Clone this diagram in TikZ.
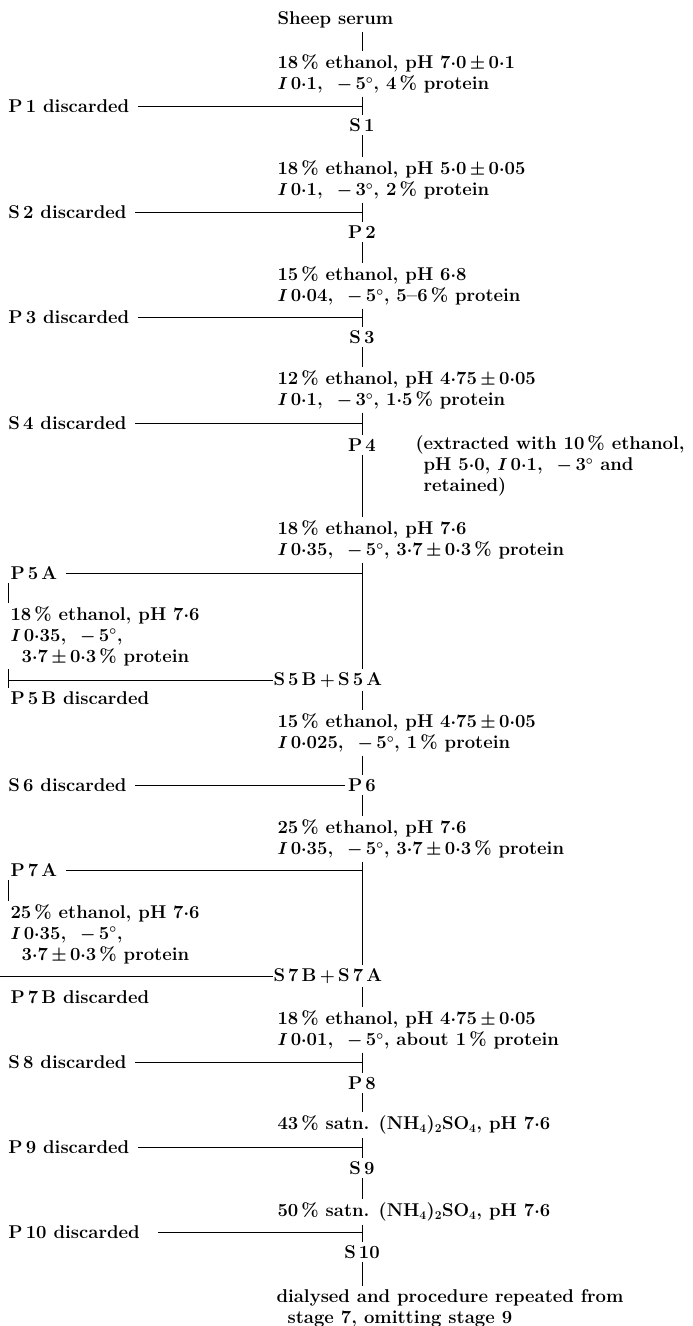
\documentclass[tikz,border=0pt]{standalone}
\newcommand{\ff}{\fontsize{18.5}{21}\selectfont\bfseries\boldmath}
\newcommand{\dec}{\ensuremath{{\cdot}}}
\newcommand{\pc}{\,\%}
\begin{document}
\begin{tikzpicture}[x=1pt,y=-1pt,line width=1pt,
  txt/.style={anchor=west,align=left,inner xsep=0pt,inner ysep=3pt,font=\ff},
  lbl/.style={inner sep=3pt,font=\ff}]
  \useasboundingbox (0,0) rectangle (693,1326);
  \coordinate (axis) at (362,0);
  \coordinate (edge) at (0,0);
  % stage 1
  \node[txt] (serum) at (277,20) {Sheep serum};
  \node[txt] (c1) at (277,74) {18\pc{} ethanol, pH 7\dec0$\,\pm\,$0\dec1\\$I$\,0\dec1, \ $-\,$5$^\circ$, 4\pc{} protein};
  \node[txt] (p1d) at (8,106) {P\,1 discarded};
  \node[lbl] (s1) at (362,125) {S\,1};
  \draw (serum.south -| axis) -- (c1.north -| axis);
  \draw (c1.south -| axis) -- (s1.north);
  \draw ([xshift=8pt]p1d.east) -- (p1d.east -| axis);
  % stage 2
  \node[txt] (c2) at (277,180) {18\pc{} ethanol, pH 5\dec0$\,\pm\,$0\dec05\\$I$\,0\dec1, \ $-\,$3$^\circ$, 2\pc{} protein};
  \node[txt] (s2d) at (8,212) {S\,2 discarded};
  \node[lbl] (p2) at (362,232) {P\,2};
  \draw (s1.south) -- (c2.north -| axis);
  \draw (c2.south -| axis) -- (p2.north);
  \draw ([xshift=8pt]s2d.east) -- (s2d.east -| axis);
  % stage 3
  \node[txt] (c3) at (277,286) {15\pc{} ethanol, pH 6\dec8\\$I$\,0\dec04, \ $-\,$5$^\circ$, 5--6\pc{} protein};
  \node[txt] (p3d) at (8,317) {P\,3 discarded};
  \node[lbl] (s3) at (362,337) {S\,3};
  \draw (p2.south) -- (c3.north -| axis);
  \draw (c3.south -| axis) -- (s3.north);
  \draw ([xshift=8pt]p3d.east) -- (p3d.east -| axis);
  % stage 4
  \node[txt] (c4) at (277,390) {12\pc{} ethanol, pH 4\dec75$\,\pm\,$0\dec05\\$I$\,0\dec1, \ $-\,$3$^\circ$, 1\dec5\pc{} protein};
  \node[txt] (s4d) at (8,423) {S\,4 discarded};
  \node[lbl] (p4) at (362,445) {P\,4};
  \node[txt] (note) at (415,466) {(extracted with 10\pc{} ethanol,\\\phantom{(}pH 5\dec0, $I$\,0\dec1, \ $-\,$3$^\circ$ and\\\phantom{(}retained)};
  \draw (s3.south) -- (c4.north -| axis);
  \draw (c4.south -| axis) -- (p4.north);
  \draw ([xshift=8pt]s4d.east) -- (s4d.east -| axis);
  % stage 5
  \node[txt] (c5) at (277,540) {18\pc{} ethanol, pH 7\dec6\\$I$\,0\dec35, \ $-\,$5$^\circ$, 3\dec7$\,\pm\,$0\dec3\pc{} protein};
  \node[txt] (p5a) at (10,573) {P\,5\,A};
  \node[txt] (l5) at (10,636) {18\pc{} ethanol, pH 7\dec6\\$I$\,0\dec35, \ $-\,$5$^\circ$,\\\hspace*{0.6em}3\dec7$\,\pm\,$0\dec3\pc{} protein};
  \node[txt] (s5) at (273,680) {S\,5\,B$\,+\,$S\,5\,A};
  \node[txt] (p5b) at (10,698) {P\,5\,B discarded};
  \draw (p4.south) -- (c5.north -| axis);
  \draw (c5.south -| axis) -- (s5.north -| axis);
  \draw ([xshift=8pt]p5a.east) -- (p5a.east -| axis);
  \draw ([xshift=-2pt]p5a.south west) -- ([xshift=-2pt]l5.north west);
  \draw ([xshift=-2pt]l5.south west) -- ([xshift=-2pt]p5b.north west);
  \draw ([xshift=-2pt]s5.west -| p5b.west) -- (s5.west);
  % stage 6
  \node[txt] (c6) at (277,733) {15\pc{} ethanol, pH 4\dec75$\,\pm\,$0\dec05\\$I$\,0\dec025, \ $-\,$5$^\circ$, 1\pc{} protein};
  \node[txt] (s6d) at (8,785) {S\,6 discarded};
  \node[lbl] (p6) at (362,785) {P\,6};
  \draw (s5.south -| axis) -- (c6.north -| axis);
  \draw (c6.south -| axis) -- (p6.north);
  \draw ([xshift=8pt]s6d.east) -- (p6.west);
  % stage 7
  \node[txt] (c7) at (277,839) {25\pc{} ethanol, pH 7\dec6\\$I$\,0\dec35, \ $-\,$5$^\circ$, 3\dec7$\,\pm\,$0\dec3\pc{} protein};
  \node[txt] (p7a) at (10,870) {P\,7\,A};
  \node[txt] (l7) at (10,934) {25\pc{} ethanol, pH 7\dec6\\$I$\,0\dec35, \ $-\,$5$^\circ$,\\\hspace*{0.6em}3\dec7$\,\pm\,$0\dec3\pc{} protein};
  \node[txt] (s7) at (273,976) {S\,7\,B$\,+\,$S\,7\,A};
  \node[txt] (p7b) at (10,997) {P\,7\,B discarded};
  \draw (p6.south) -- (c7.north -| axis);
  \draw (c7.south -| axis) -- (s7.north -| axis);
  \draw ([xshift=8pt]p7a.east) -- (p7a.east -| axis);
  \draw ([xshift=-2pt]p7a.south west) -- ([xshift=-2pt]l7.north west);
  \draw (s7.west -| edge) -- (s7.west);
  % stage 8
  \node[txt] (c8) at (277,1030) {18\pc{} ethanol, pH 4\dec75$\,\pm\,$0\dec05\\$I$\,0\dec01, \ $-\,$5$^\circ$, about 1\pc{} protein};
  \node[txt] (s8d) at (8,1062) {S\,8 discarded};
  \node[lbl] (p8) at (362,1083) {P\,8};
  \draw (s7.south -| axis) -- (c8.north -| axis);
  \draw (c8.south -| axis) -- (p8.north);
  \draw ([xshift=8pt]s8d.east) -- (s8d.east -| axis);
  % stage 9
  \node[txt] (c9) at (277,1125) {43\pc{} satn. (NH$_4$)$_2$SO$_4$, pH 7\dec6};
  \node[txt] (p9d) at (8,1147) {P\,9 discarded};
  \node[lbl] (s9) at (362,1168) {S\,9};
  \draw (p8.south) -- (c9.north -| axis);
  \draw (c9.south -| axis) -- (s9.north);
  \draw ([xshift=8pt]p9d.east) -- (p9d.east -| axis);
  % stage 10
  \node[txt] (c10) at (277,1212) {50\pc{} satn. (NH$_4$)$_2$SO$_4$, pH 7\dec6};
  \node[txt] (p10d) at (8,1232) {P\,10 discarded};
  \node[lbl] (s10) at (362,1252) {S\,10};
  \node[txt] (fin) at (276,1308) {dialysed and procedure repeated from\\\hspace*{0.6em}stage 7, omitting stage 9};
  \draw (s9.south) -- (c10.north -| axis);
  \draw (c10.south -| axis) -- (s10.north);
  \draw ([xshift=18pt]p10d.east) -- (p10d.east -| axis);
  \draw (s10.south) -- (fin.north -| axis);
\end{tikzpicture}
\end{document}
